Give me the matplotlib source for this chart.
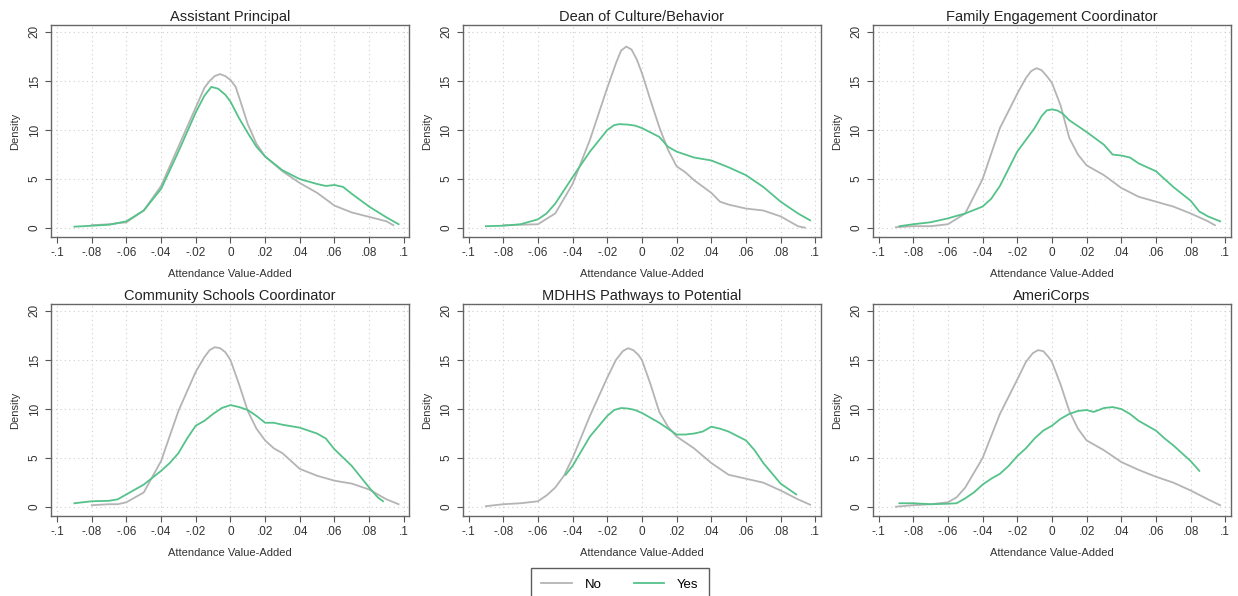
import matplotlib
matplotlib.use("Agg")
import matplotlib.pyplot as plt
from matplotlib.lines import Line2D

plt.rcParams['font.family'] = ['Liberation Sans', 'DejaVu Sans']

titles = ["Assistant Principal", "Dean of Culture/Behavior", "Family Engagement Coordinator",
          "Community Schools Coordinator", "MDHHS Pathways to Potential", "AmeriCorps"]

# ---- Assistant Principal ----
ap_no_x = [-0.08, -0.07, -0.06, -0.05, -0.04, -0.03, -0.02, -0.015, -0.012, -0.009, -0.006, -0.003, 0.0,
           0.003, 0.006, 0.01, 0.015, 0.02, 0.03, 0.04, 0.05, 0.06, 0.07, 0.08, 0.09, 0.094]
ap_no_y = [0.3, 0.4, 0.6, 1.8, 4.3, 8.3, 12.3, 14.3, 15.0, 15.5, 15.7, 15.5, 15.1,
           14.4, 12.8, 10.6, 8.6, 7.3, 5.8, 4.6, 3.6, 2.3, 1.6, 1.15, 0.7, 0.3]
ap_yes_x = [-0.09, -0.08, -0.07, -0.06, -0.05, -0.04, -0.03, -0.02, -0.015, -0.011, -0.007, -0.003, 0.0,
            0.005, 0.01, 0.015, 0.02, 0.03, 0.04, 0.05, 0.055, 0.06, 0.065, 0.07, 0.08, 0.09, 0.097]
ap_yes_y = [0.15, 0.25, 0.35, 0.7, 1.8, 4.0, 7.8, 11.8, 13.5, 14.4, 14.2, 13.6, 12.9,
            11.2, 9.7, 8.3, 7.3, 5.9, 5.0, 4.5, 4.3, 4.4, 4.2, 3.5, 2.2, 1.1, 0.4]

# ---- Dean of Culture/Behavior ----
dc_no_x = [-0.08, -0.07, -0.06, -0.05, -0.04, -0.03, -0.02, -0.015, -0.012, -0.009, -0.006, -0.003, 0.0,
           0.005, 0.01, 0.015, 0.02, 0.025, 0.03, 0.04, 0.045, 0.05, 0.06, 0.07, 0.08, 0.09, 0.094]
dc_no_y = [0.3, 0.35, 0.4, 1.5, 4.5, 9.0, 14.3, 16.8, 18.1, 18.5, 18.2, 17.2, 15.8,
           13.0, 10.3, 8.0, 6.3, 5.7, 4.9, 3.6, 2.7, 2.4, 2.0, 1.8, 1.2, 0.2, 0.05]
dc_yes_x = [-0.09, -0.08, -0.07, -0.06, -0.055, -0.05, -0.04, -0.03, -0.02, -0.016, -0.013, -0.008,
            -0.004, 0.0, 0.01, 0.015, 0.02, 0.03, 0.04, 0.05, 0.06, 0.07, 0.08, 0.09, 0.097]
dc_yes_y = [0.2, 0.25, 0.4, 0.9, 1.5, 2.5, 5.2, 7.8, 10.0, 10.5, 10.6, 10.55,
            10.45, 10.2, 9.3, 8.3, 7.8, 7.2, 6.9, 6.2, 5.4, 4.2, 2.7, 1.5, 0.8]

# ---- Family Engagement Coordinator ----
fe_no_x = [-0.09, -0.08, -0.07, -0.06, -0.05, -0.04, -0.03, -0.02, -0.015, -0.012, -0.009, -0.006, -0.003,
           0.0, 0.005, 0.01, 0.015, 0.02, 0.03, 0.04, 0.05, 0.06, 0.07, 0.08, 0.09, 0.094]
fe_no_y = [0.1, 0.2, 0.2, 0.4, 1.5, 5.0, 10.2, 13.7, 15.3, 16.0, 16.3, 16.1, 15.5,
           14.8, 12.5, 9.2, 7.5, 6.4, 5.4, 4.1, 3.2, 2.7, 2.2, 1.5, 0.7, 0.3]
fe_yes_x = [-0.088, -0.08, -0.07, -0.06, -0.05, -0.04, -0.035, -0.03, -0.02, -0.01, -0.006, -0.003, 0.0,
            0.003, 0.006, 0.01, 0.02, 0.03, 0.035, 0.04, 0.045, 0.05, 0.06, 0.065, 0.07, 0.08, 0.085,
            0.09, 0.097]
fe_yes_y = [0.2, 0.4, 0.6, 1.0, 1.5, 2.2, 3.0, 4.3, 7.8, 10.2, 11.4, 12.0, 12.1,
            12.0, 11.7, 11.0, 9.8, 8.5, 7.5, 7.4, 7.2, 6.6, 5.8, 5.0, 4.2, 2.8, 1.7,
            1.2, 0.7]

# ---- Community Schools Coordinator ----
cs_no_x = [-0.08, -0.07, -0.065, -0.06, -0.05, -0.04, -0.03, -0.02, -0.015, -0.012, -0.009, -0.006,
           -0.003, 0.0, 0.005, 0.01, 0.015, 0.02, 0.025, 0.03, 0.04, 0.05, 0.06, 0.07, 0.08, 0.09, 0.097]
cs_no_y = [0.2, 0.3, 0.3, 0.5, 1.5, 4.7, 9.8, 13.8, 15.3, 16.0, 16.3, 16.2,
           15.8, 15.0, 12.5, 9.8, 8.0, 6.8, 6.0, 5.5, 3.9, 3.2, 2.7, 2.4, 1.8, 0.8, 0.3]
cs_yes_x = [-0.09, -0.08, -0.07, -0.065, -0.06, -0.05, -0.04, -0.035, -0.03, -0.025, -0.02, -0.015,
            -0.01, -0.005, 0.0, 0.005, 0.01, 0.015, 0.02, 0.025, 0.03, 0.04, 0.05, 0.055, 0.06, 0.07,
            0.08, 0.085, 0.088]
cs_yes_y = [0.4, 0.6, 0.65, 0.8, 1.3, 2.3, 3.7, 4.5, 5.5, 7.0, 8.3, 8.8,
            9.5, 10.1, 10.4, 10.2, 9.9, 9.3, 8.6, 8.6, 8.4, 8.1, 7.5, 7.0, 5.9, 4.2,
            2.0, 1.0, 0.6]

# ---- MDHHS Pathways to Potential ----
md_no_x = [-0.09, -0.08, -0.07, -0.06, -0.055, -0.05, -0.045, -0.04, -0.03, -0.02, -0.015, -0.011, -0.008,
           -0.005, -0.002, 0.0, 0.005, 0.01, 0.015, 0.02, 0.03, 0.04, 0.05, 0.06, 0.07, 0.08, 0.09, 0.097]
md_no_y = [0.1, 0.3, 0.4, 0.6, 1.2, 2.0, 3.2, 5.0, 9.3, 13.2, 15.0, 15.9, 16.2,
           16.0, 15.5, 15.0, 12.5, 9.7, 8.2, 7.2, 6.0, 4.5, 3.3, 2.9, 2.5, 1.7, 0.8, 0.25]
md_yes_x = [-0.044, -0.04, -0.03, -0.02, -0.016, -0.012, -0.008, -0.004, 0.0, 0.01, 0.02, 0.025, 0.03,
            0.035, 0.04, 0.045, 0.05, 0.06, 0.065, 0.07, 0.08, 0.089]
md_yes_y = [3.3, 4.2, 7.2, 9.3, 9.9, 10.1, 10.05, 9.9, 9.6, 8.6, 7.4, 7.4, 7.5,
            7.7, 8.2, 8.0, 7.7, 6.8, 5.8, 4.5, 2.4, 1.3]

# ---- AmeriCorps ----
am_no_x = [-0.09, -0.08, -0.07, -0.06, -0.055, -0.05, -0.04, -0.03, -0.02, -0.015, -0.011, -0.008, -0.005,
           -0.002, 0.0, 0.005, 0.01, 0.015, 0.02, 0.03, 0.04, 0.05, 0.06, 0.07, 0.08, 0.09, 0.097]
am_no_y = [0.05, 0.2, 0.3, 0.5, 1.0, 2.0, 5.0, 9.5, 13.0, 14.8, 15.7, 16.0, 15.9,
           15.3, 14.8, 12.5, 9.8, 8.0, 6.8, 5.8, 4.6, 3.8, 3.1, 2.5, 1.7, 0.8, 0.2]
am_yes_x = [-0.088, -0.08, -0.07, -0.06, -0.055, -0.05, -0.045, -0.04, -0.035, -0.03, -0.025, -0.02,
            -0.015, -0.01, -0.005, 0.0, 0.005, 0.01, 0.015, 0.02, 0.024, 0.03, 0.035, 0.04, 0.045,
            0.05, 0.06, 0.065, 0.07, 0.08, 0.085]
am_yes_y = [0.4, 0.4, 0.3, 0.35, 0.4, 0.9, 1.5, 2.3, 2.9, 3.4, 4.2, 5.2,
            6.0, 7.0, 7.8, 8.3, 9.0, 9.5, 9.8, 9.9, 9.7, 10.1, 10.2, 10.0, 9.5,
            8.8, 7.8, 7.0, 6.3, 4.7, 3.7]

x_ticks = [-0.1, -0.08, -0.06, -0.04, -0.02, 0.0, 0.02, 0.04, 0.06, 0.08, 0.1]
x_ticklabels = ["-.1", "-.08", "-.06", "-.04", "-.02", "0", ".02", ".04", ".06", ".08", ".1"]
y_ticks = [0, 5, 10, 15, 20]
y_ticklabels = ["0", "5", "10", "15", "20"]

series = [
    (ap_no_x, ap_no_y, ap_yes_x, ap_yes_y),
    (dc_no_x, dc_no_y, dc_yes_x, dc_yes_y),
    (fe_no_x, fe_no_y, fe_yes_x, fe_yes_y),
    (cs_no_x, cs_no_y, cs_yes_x, cs_yes_y),
    (md_no_x, md_no_y, md_yes_x, md_yes_y),
    (am_no_x, am_no_y, am_yes_x, am_yes_y),
]

NO_COLOR = "#b4b4b4"
YES_COLOR = "#55c28a"
TEXT = "#333333"

fig = plt.figure(figsize=(12.38, 5.96), dpi=100)
W, H = 1238, 596
lefts = [51, 462.5, 872.5]
tops = [25, 304]
aw, ah = 358, 212

for i, (title, (nx, ny, yx, yy)) in enumerate(zip(titles, series)):
    r, c = divmod(i, 3)
    ax = fig.add_axes([lefts[c] / W, 1 - (tops[r] + ah) / H, aw / W, ah / H])
    ax.plot(nx, ny, color=NO_COLOR, lw=1.3, zorder=3, solid_joinstyle='round')
    ax.plot(yx, yy, color=YES_COLOR, lw=1.3, zorder=4, solid_joinstyle='round')
    ax.set_xlim(-0.1035, 0.103)
    ax.set_ylim(-0.9, 20.7)
    ax.set_xticks(x_ticks)
    ax.set_xticklabels(x_ticklabels)
    ax.set_yticks(y_ticks)
    ax.set_yticklabels(y_ticklabels, rotation=90, va='center')
    ax.tick_params(axis='both', labelsize=8.5, colors='#555555', labelcolor=TEXT, length=4, width=0.8)
    ax.grid(True, linestyle=(0, (1, 3)), color='#cfcfcf', lw=0.8)
    ax.set_axisbelow(True)
    for s in ax.spines.values():
        s.set_color('#666666')
        s.set_linewidth(1.0)
    ax.set_title(title, fontsize=10.5, color='#222222', pad=3)
    ax.set_xlabel("Attendance Value-Added", fontsize=8, color=TEXT, labelpad=7)
    ax.set_ylabel("Density", fontsize=8, color=TEXT, labelpad=6)

handles = [Line2D([], [], color=NO_COLOR, lw=1.3), Line2D([], [], color=YES_COLOR, lw=1.3)]
leg = fig.legend(handles, ["No", "Yes"], loc='upper center', bbox_to_anchor=(0.5008, 1 - 568 / H),
                 ncol=2, frameon=True, fancybox=False, fontsize=9.5, handlelength=2.3,
                 columnspacing=2.4, handletextpad=1.0, borderpad=0.8, borderaxespad=0.0,
                 edgecolor='#333333')
leg.get_frame().set_linewidth(1.0)

fig.savefig("out.png", dpi=100, facecolor='white')
